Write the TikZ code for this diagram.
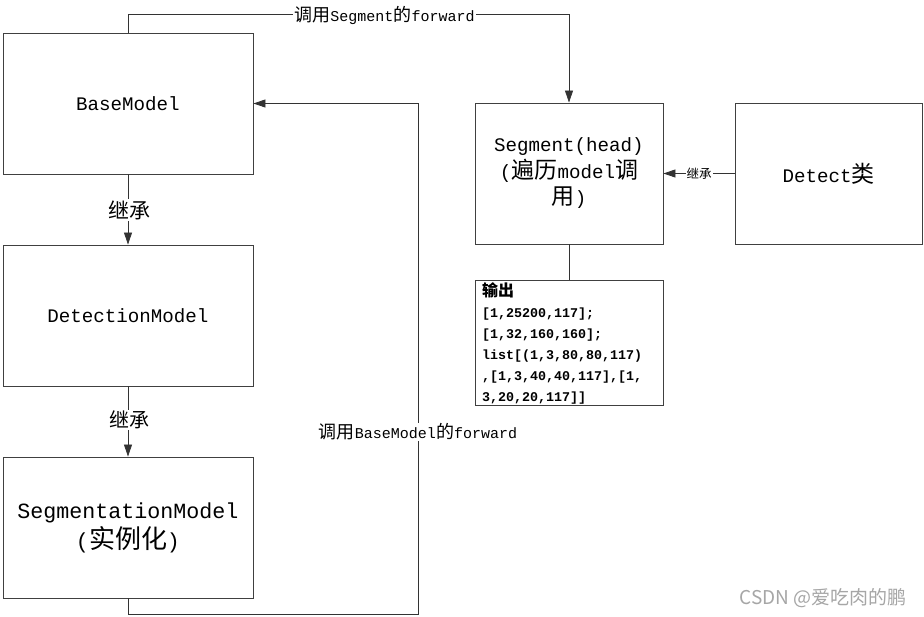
\documentclass[tikz,border=0pt]{standalone}
\usepackage{fontspec}
\usetikzlibrary{arrows.meta}
\newfontfamily\cj{Noto Sans CJK SC}
\newfontfamily\lmo{Liberation Mono}
\def\curF{20}
\newcommand\setF[1]{\def\curF{#1}}
\newcommand\zh[1]{{\cj\fontsize{\curF}{\curF}\selectfont #1}}
\newcommand\en[1]{{\lmo\fontsize{\fpeval{\curF/1.2}}{\curF}\selectfont #1}}
\begin{document}
\begin{tikzpicture}[x=1pt,y=-1pt,
  box/.style={draw=black!75,line width=0.9pt,fill=white,inner sep=0pt,align=center},
  conn/.style={draw=black!80,line width=0.8pt},
  arr/.style={conn,-{Triangle[length=12pt,width=8pt]}},
  lbl/.style={fill=white,inner sep=1pt,text=black}]
\useasboundingbox (0,0) rectangle (924,617);
\fill[white] (0,0) rectangle (924,617);

\node[box,minimum width=250pt,minimum height=141pt] (base) at (128,103.5)
  {\setF{23}\en{BaseModel}};
\node[box,minimum width=250pt,minimum height=141pt] (det) at (128,315.5)
  {\setF{23}\en{DetectionModel}};
\node[box,minimum width=250pt,minimum height=141pt,font=\fontsize{26}{30}\selectfont] (seg) at (128,527.5)
  {\setF{26}\en{SegmentationModel}\\\setF{26}\en{(}\zh{实例化}\en{)}};
\node[box,minimum width=188pt,minimum height=141pt,font=\fontsize{23}{26.5}\selectfont] (head) at (569,173.5)
  {\setF{23}\en{Segment(head)}\\\setF{23}\en{(}\zh{遍历}\en{model}\zh{调}\\\setF{23}\zh{用}\en{)}};
\node[box,minimum width=188pt,minimum height=125pt] (out) at (569,342.5) {};
\node[anchor=north west,inner sep=0pt,align=left,font=\fontsize{16}{21}\selectfont] (outtxt) at (482,282)
  {\setF{16}{\cj\bfseries\fontsize{16}{16}\selectfont 输出}\\
   \setF{16}{\bfseries\en{[1,25200,117];}}\\
   \setF{16}{\bfseries\en{[1,32,160,160];}}\\
   \setF{16}{\bfseries\en{list[(1,3,80,80,117)}}\\
   \setF{16}{\bfseries\en{,[1,3,40,40,117],[1,}}\\
   \setF{16}{\bfseries\en{3,20,20,117]]}}};
\node[box,minimum width=187pt,minimum height=141pt] (detect) at (828.5,173.5)
  {\setF{23}\en{Detect}\zh{类}};

\coordinate (t1) at (128,14);
\coordinate (t2) at (569,14);
\draw[arr] (base.north) -- (t1) -- (t2) -- (head.north);
\node[lbl] (ltop) at (384.5,15) {\setF{18}\zh{调用}\en{Segment}\zh{的}\en{forward}};

\draw[arr] (base.south) -- (det.north);
\node[lbl] (l1) at (129,210) {\setF{21}\zh{继承}};
\draw[arr] (det.south) -- (seg.north);
\node[lbl] (l2) at (129,420) {\setF{20}\zh{继承}};

\coordinate (b1) at (128,614);
\coordinate (b2) at (418,614);
\coordinate (b3) at (418,103.5);
\draw[arr] (seg.south) -- (b1) -- (b2) -- (b3) -- (base.east);
\node[lbl] (lbot) at (418,432) {\setF{18}\zh{调用}\en{BaseModel}\zh{的}\en{forward}};

\draw[conn] (head.south) -- (out.north);
\draw[arr] (detect.west) -- (head.east);
\node[lbl] (lsm) at (699,173.5) {\setF{12.5}\zh{继承}};

\node[text=black!35,inner sep=0pt] (wm) at (823,598) {\cj\fontsize{19}{19}\selectfont CSDN @爱吃肉的鹏};
\end{tikzpicture}
\end{document}
